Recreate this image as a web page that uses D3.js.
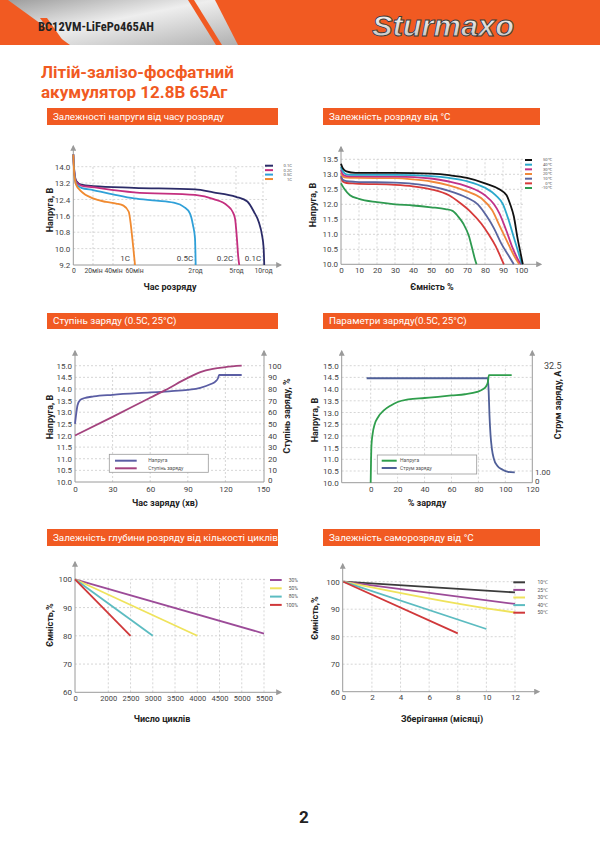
<!DOCTYPE html>
<html><head><meta charset="utf-8">
<script src="https://cdn.jsdelivr.net/npm/d3@7"></script>
<style>
body{margin:0;background:#fff;}
svg{display:block;font-family:Roboto,"Liberation Sans",Arial,sans-serif;}
.grid{stroke:#c4c4c4;stroke-width:0.7;stroke-dasharray:2,2;fill:none;}
.tick text{font-size:8px;fill:#444;font-family:Roboto,"Liberation Sans",Arial,sans-serif;}
.ax{stroke:#9a9a9a;stroke-width:1;}
.atitle{font-size:9px;font-weight:bold;fill:#222;}
.leg{font-size:5px;fill:#555;}
</style></head><body>
<script>
// ---- data ----
// chart 1: discharge voltage vs time (minutes)
const dischargeTimeTicks=[0,20,40,60,120,300,600]
const dischargeTimeLabels=["0","20мін","40мін","60мін","2год","5год","10год"]
const dischargeVoltTicks=[9.2,10.0,10.8,11.6,12.4,13.2,14.0]
const rate01C=[[0,14.6],[1,13.8],[3,13.3],[8,13.12],[20,13.05],[60,12.97],[120,12.89],[200,12.75],[300,12.53],[426,12.3],[499,11.8],[553,11.3],[589,10.66],[607,10.03],[614,9.2]]
const rate02C=[[0,14.6],[1,13.75],[3,13.25],[8,13.08],[20,13.0],[60,12.75],[120,12.62],[202,12.42],[262,12.1],[285,11.8],[296,11.45],[310,10.5],[325,9.6],[336,9.2]]
const rate05C=[[0,14.6],[1,13.7],[3,13.15],[8,12.97],[20,12.86],[40,12.65],[60,12.45],[82,12.34],[99,12.24],[109,12.04],[115,11.72],[118,11.15],[120,10.5],[123,9.2]]
const rate1C=[[0,14.6],[1,13.6],[3,13.1],[8,12.8],[20,12.45],[33,12.28],[43,12.2],[50,12.1],[55,11.8],[57,11.15],[59,10.2],[61,9.2]]
const rateNames=["0.1C","0.2C","0.5C","1C"]
const rateColors=["#2b2b68","#c42f7f","#2fa0d8","#f08a30"]

// chart 2: discharge vs temperature
const capTicks=[0,10,20,30,40,50,60,70,80,90,100]
const tempVoltTicks=[10.0,10.5,11.0,11.5,12.0,12.5,13.0,13.5]
const t50=[[0,13.35],[1,13.2],[3,13.1],[8,13.05],[30,13.05],[50,13.02],[60,12.97],[70,12.88],[80,12.7],[88,12.5],[92,12.3],[94,12.0],[96,11.6],[98,10.9],[100,10.3],[101,10.0]]
const t40=[[0,13.25],[1,13.1],[3,13.0],[8,12.98],[30,12.98],[50,12.94],[60,12.88],[70,12.77],[80,12.55],[86,12.3],[90,12.0],[93,11.5],[96,10.9],[98.5,10.4],[100.5,10.0]]
const t30=[[0,13.15],[1,13.0],[3,12.94],[8,12.93],[30,12.92],[50,12.86],[60,12.76],[70,12.6],[80,12.3],[85,12.0],[88,11.7],[92,11.1],[95,10.6],[98,10.2],[100,10.0]]
const t20=[[0,13.05],[1,12.93],[3,12.89],[8,12.88],[30,12.87],[40,12.83],[50,12.76],[60,12.63],[70,12.43],[78,12.2],[84,11.8],[88,11.3],[92,10.8],[96,10.3],[99,10.0]]
const t10=[[0,12.95],[1,12.82],[3,12.77],[8,12.75],[30,12.72],[40,12.68],[50,12.6],[60,12.45],[70,12.22],[76,12.0],[81,11.6],[85,11.2],[89,10.7],[93,10.3],[96,10.0]]
const t0=[[0,12.9],[1,12.76],[3,12.71],[8,12.69],[30,12.65],[40,12.6],[50,12.5],[60,12.3],[66,12.05],[72,11.75],[78,11.35],[82,11.0],[86,10.6],[89,10.2],[90.5,10.0]]
const tm10=[[0,12.7],[2,12.5],[5,12.3],[10,12.18],[20,12.07],[30,12.0],[40,11.96],[50,11.9],[58,11.84],[62,11.78],[65,11.6],[68,11.35],[71,10.95],[73,10.5],[74.5,10.15],[75.3,10.0]]
const tempNames=["50℃","40℃","30℃","20℃","10℃","0℃","-10℃"]
const tempColors=["#111111","#2aa8cb","#c03288","#f0883a","#5a659f","#d63a3a","#2e9a50"]

// chart 3: state of charge
const chargeTimeTicks=[0,30,60,90,120,150]
const chargeVoltTicks=[10.0,10.5,11.0,11.5,12.0,12.5,13.0,13.5,14.0,14.5,15.0]
const socTicks=[0,10,20,30,40,50,60,70,80,90,100]
const chargeVolt=[[0,12.5],[1,12.95],[2,13.3],[4,13.52],[7,13.6],[15,13.68],[30,13.75],[60,13.85],[75,13.9],[90,13.96],[100,14.05],[108,14.2],[112,14.32],[114,14.45],[115,14.6],[133,14.6]]
const chargeSoc=[[0,40],[30,56],[60,72.5],[72,79],[90,89.5],[100,94.5],[110,97.3],[120,98.8],[133,100]]

// chart 4: charge parameters
const chargePctTicks=[0,20,40,60,80,100,120]
const paramVolt=[[0,10.0],[0.3,11.0],[0.6,11.6],[1.5,12.1],[3,12.5],[5.5,12.8],[10,13.1],[15,13.3],[20,13.45],[28,13.56],[40,13.62],[50,13.67],[60,13.73],[70,13.78],[79,13.88],[83,13.98],[85.5,14.1],[87,14.3],[87.8,14.6],[104.7,14.6]]
const paramCurrent=[[-3,28.8],[87,28.8],[87.6,25],[88.2,18],[89,12],[90,8],[91.5,5],[94,3],[98,1.8],[102,1.2],[107,1.05]]
const currentTicks=[0,1,32.5]
const currentLabels=["0","1.00","32.5"]

// chart 5: cycles
const cycleTicks=[0,2000,2500,3000,3500,4000,4500,5000,5500]
const capPctTicks=[60,70,80,90,100]
const dod30=[[0,100],[5500,80.8]]
const dod50=[[0,100],[4000,80]]
const dod80=[[0,100],[3000,80]]
const dod100=[[0,100],[2500,80]]
const dodNames=["30%","50%","80%","100%"]
const dodColors=["#9c4b98","#efe35c","#5cbcc1","#d0383a"]

// chart 6: self discharge
const monthTicks=[0,2,4,6,8,10,12]
const sd10=[[0,100],[12,96.1]]
const sd25=[[0,100],[12,91.9]]
const sd30=[[0,100],[10,90.3],[12,88.8]]
const sd40=[[0,100],[10,82.8]]
const sd50=[[0,100],[8,81.2]]
const sdNames=["10℃","25℃","30℃","40℃","50℃"]
const sdColors=["#3b3b3b","#9c4b98","#efe35c","#5cbcc1","#d0383a"]

// ---- page ----
const ORANGE="#f15a22"
const svg=d3.select("body").append("svg").attr("width",600).attr("height",848)
const defs=svg.append("defs")
defs.append("marker").attr("id","arr").attr("viewBox","0 0 10 10")
    .attr("refX",8).attr("refY",5).attr("markerWidth",6).attr("markerHeight",6)
    .attr("orient","auto")
    .append("path").attr("d","M0,0L10,5L0,10z").attr("fill","#9a9a9a")
const silver=defs.append("linearGradient").attr("id","silver")
    .attr("x1","0").attr("y1","0").attr("x2","1").attr("y2","1")
silver.append("stop").attr("offset","0").attr("stop-color","#9d9d9d")
silver.append("stop").attr("offset","0.45").attr("stop-color","#eeeeee")
silver.append("stop").attr("offset","1").attr("stop-color","#b0b0b0")
const logoGrad=defs.append("linearGradient").attr("id","logo")
    .attr("x1","0").attr("y1","0").attr("x2","0").attr("y2","1")
logoGrad.append("stop").attr("offset","0").attr("stop-color","#ffffff")
logoGrad.append("stop").attr("offset","1").attr("stop-color","#bdbdbd")

// header
svg.append("rect").attr("x",0).attr("y",0).attr("width",600).attr("height",45).attr("fill",ORANGE)
svg.append("path").attr("d","M8,0L215,0L238,45L70,45Z").attr("fill","url(#silver)")
svg.append("path").attr("d","M188,0L194,0L222,45L216,45Z").attr("fill",ORANGE)
svg.append("path").attr("d","M40,18L47,18L66,45L59,45Z").attr("fill",ORANGE)
svg.append("text").attr("x",38).attr("y",31).text("BC12VM-LiFePo465AH")
    .attr("font-family","'Liberation Sans Narrow','Roboto Condensed',Roboto,sans-serif")
    .attr("font-weight","bold").attr("font-size",12.5).attr("fill","#222")
    .attr("textLength",116).attr("lengthAdjust","spacingAndGlyphs")
svg.append("text").attr("x",372).attr("y",36).text("Sturmaxo")
    .attr("font-family","'Liberation Sans',Arial,sans-serif").attr("font-style","italic")
    .attr("font-weight","bold").attr("font-size",30).attr("fill","url(#logo)")
    .attr("stroke","#3a3a3a").attr("stroke-width",0.9)
    .attr("textLength",142).attr("lengthAdjust","spacingAndGlyphs")

// title
const title=svg.append("text").attr("font-weight","bold").attr("font-size",17).attr("fill",ORANGE)
title.append("tspan").attr("x",41).attr("y",78).text("Літій-залізо-фосфатний")
title.append("tspan").attr("x",41).attr("y",98).text("акумулятор 12.8В 65Аг")

// section bars
function bar(x,y,w,h,txt){
    svg.append("rect").attr("x",x).attr("y",y).attr("width",w).attr("height",h).attr("fill",ORANGE)
    svg.append("text").attr("x",x+6).attr("y",y+h/2).attr("dy","0.35em")
        .attr("font-size",9.8).attr("fill","#fff").text(txt)
}
bar(47,108,231,17,"Залежності напруги від часу розряду")
bar(323,108,217,17,"Залежність розряду від °С")
bar(47,313,231,16,"Ступінь заряду (0.5С, 25°C)")
bar(323,313,217,16,"Параметри заряду(0.5С, 25°C)")
bar(47,529,231,17,"Залежність глубини розряду від кількості циклів")
bar(323,529,217,17,"Залежність саморозряду від °С")

svg.append("text").attr("x",304).attr("y",823).attr("text-anchor","middle")
    .attr("font-size",17).attr("font-weight","bold").attr("fill","#222").text("2")

// ---- helpers ----
function frame(o){
    const g=svg.append("g")
    const yb=o.y.range()[0]
    g.selectAll(null).data(o.yGrid).join("line").attr("class","grid")
        .attr("x1",o.x0).attr("x2",o.gridRight).attr("y1",d=>o.y(d)).attr("y2",d=>o.y(d))
    g.selectAll(null).data(o.xGrid).join("line").attr("class","grid")
        .attr("x1",d=>o.x(d)).attr("x2",d=>o.x(d)).attr("y1",yb).attr("y2",o.gridTop)
    g.append("line").attr("class","ax").attr("x1",o.x0).attr("x2",o.xEnd).attr("y1",yb).attr("y2",yb)
        .attr("marker-end",o.xArrow?"url(#arr)":null)
    g.append("line").attr("class","ax").attr("x1",o.x0).attr("x2",o.x0).attr("y1",yb).attr("y2",o.yEnd)
        .attr("marker-end","url(#arr)")
    g.append("g").attr("transform",`translate(0,${yb})`)
        .call(d3.axisBottom(o.x).tickValues(o.xTicks).tickFormat(o.xFmt||d3.format("d")).tickSize(0).tickPadding(o.xPad||3))
        .call(a=>a.select(".domain").remove())
        .selectAll("text").style("font-size",(o.xFont||8)+"px")
    g.append("g").attr("transform",`translate(${o.x0},0)`)
        .call(d3.axisLeft(o.y).tickValues(o.yTicks).tickFormat(o.yFmt||d3.format("d")).tickSize(0).tickPadding(3))
        .call(a=>a.select(".domain").remove())
        .selectAll("text").style("font-size",(o.yFont||8)+"px")
    return g
}

function curve(x,y,data,color,w){
    svg.append("path").datum(data)
        .attr("d",d3.line().x(d=>x(d[0])).y(d=>y(d[1])).curve(d3.curveMonotoneX))
        .attr("fill","none").attr("stroke",color).attr("stroke-width",w||1.8)
        .attr("stroke-linejoin","round")
}

function legend(names,colors,sx0,sx1,lx,y0,dy,fs){
    names.forEach((n,i)=>{
        svg.append("line").attr("x1",sx0).attr("x2",sx1).attr("y1",y0+i*dy).attr("y2",y0+i*dy)
            .attr("stroke",colors[i]).attr("stroke-width",2)
        svg.append("text").attr("class","leg").attr("x",lx).attr("y",y0+i*dy).attr("dy","0.35em")
            .attr("text-anchor","end").style("font-size",fs+"px").text(n)
    })
}

function atitle(x,y,txt,rot){
    svg.append("text").attr("class","atitle").attr("text-anchor","middle").attr("dy","0.35em")
        .attr("transform",`translate(${x},${y})`+(rot?" rotate(-90)":"")).text(txt)
}

function boxLegend(x,y,w,h,rows,sx0,sx1,tx){
    svg.append("rect").attr("x",x).attr("y",y).attr("width",w).attr("height",h)
        .attr("fill","#fff").attr("stroke","#9a9a9a").attr("stroke-width",0.8)
    rows.forEach(r=>{
        svg.append("line").attr("x1",sx0).attr("x2",sx1).attr("y1",r.y).attr("y2",r.y)
            .attr("stroke",r.color).attr("stroke-width",2)
        svg.append("text").attr("class","leg").attr("x",tx).attr("y",r.y).attr("dy","0.35em").text(r.name)
    })
}

// ---- chart 1 ----
{
    const x=d3.scaleLinear().domain(dischargeTimeTicks).range([73.3,93,113,134,195,236,263])
    const y=d3.scaleLinear().domain([9.2,14.0]).range([265,166.7])
    frame({x,y,x0:73.3,xEnd:281,xArrow:true,yEnd:146,gridRight:267,gridTop:166.7,
        yGrid:dischargeVoltTicks.slice(1),xGrid:dischargeTimeTicks.slice(1),
        xTicks:dischargeTimeTicks,xFmt:(d,i)=>dischargeTimeLabels[i],xFont:6.8,
        yTicks:dischargeVoltTicks,yFmt:d3.format(".1f")})
    ;[rate01C,rate02C,rate05C,rate1C].forEach((s,i)=>curve(x,y,s,rateColors[i]))
    const lab=[[125,"1C"],[185,"0.5C"],[225,"0.2C"],[253,"0.1C"]]
    lab.forEach(l=>svg.append("text").attr("x",l[0]).attr("y",261).attr("text-anchor","middle")
        .attr("font-size",8).attr("fill","#444").text(l[1]))
    legend(rateNames,rateColors,265,273,292,165.7,4.45,4.2)
    atitle(50,210,"Напруга, В",true)
    atitle(170,287,"Час розряду")
}

// ---- chart 2 ----
{
    const x=d3.scaleLinear().domain([0,100]).range([341,521])
    const y=d3.scaleLinear().domain([10,13.5]).range([264.3,159.3])
    frame({x,y,x0:341,xEnd:541,xArrow:true,yEnd:147,gridRight:524,gridTop:159.3,
        yGrid:tempVoltTicks.slice(1),xGrid:capTicks.slice(1),
        xTicks:capTicks,yTicks:tempVoltTicks,yFmt:d3.format(".1f")})
    ;[tm10,t0,t10,t20,t30,t40,t50].forEach((s,i)=>curve(x,y,s,tempColors[6-i]))
    legend(tempNames,tempColors,525,532,551.7,160,4.67,4.2)
    atitle(313,205,"Напруга, В",true)
    atitle(432,287,"Ємність %")
}

// ---- chart 3 ----
{
    const x=d3.scaleLinear().domain([0,150]).range([75,263])
    const y=d3.scaleLinear().domain([10,15]).range([482,365.7])
    const y2=d3.scaleLinear().domain([0,100]).range([482,365.7])
    frame({x,y,x0:75,xEnd:264,xArrow:false,yEnd:351,gridRight:264,gridTop:365.7,
        yGrid:chargeVoltTicks.slice(1),xGrid:chargeTimeTicks.slice(1,-1),xPad:4,
        xTicks:chargeTimeTicks,yTicks:chargeVoltTicks,yFmt:d3.format(".1f")})
    svg.append("line").attr("class","ax").attr("x1",264).attr("x2",264).attr("y1",482).attr("y2",351)
        .attr("marker-end","url(#arr)")
    svg.append("g").attr("transform","translate(264,0)")
        .call(d3.axisRight(y2).tickValues(socTicks).tickSize(0).tickPadding(4))
        .call(a=>a.select(".domain").remove())
        .selectAll("text").attr("dy",(d)=>d==0?"0.1em":"0.32em")
    curve(x,y,chargeVolt,"#5b5ea4")
    curve(x,y2,chargeSoc,"#a4437e")
    boxLegend(109.3,454.3,99,18,[{y:460.7,color:"#5b5ea4",name:"Напруга"},{y:468.3,color:"#a4437e",name:"Ступінь заряду"}],115,136.7,148.3)
    atitle(50,417,"Напруга, В",true)
    atitle(287,416,"Ступінь заряду, %",true)
    atitle(165,503,"Час заряду (хв)")
}

// ---- chart 4 ----
{
    const x=d3.scaleLinear().domain([-21.5,120]).range([341.7,532.3])
    const y=d3.scaleLinear().domain([10,15]).range([482.7,365.7])
    const y2=d3.scaleLinear().domain(currentTicks).range([482.7,472.5,365.7])
    frame({x,y,x0:341.7,xEnd:532.3,xArrow:false,yEnd:351,gridRight:532.3,gridTop:365.7,
        yGrid:chargeVoltTicks.slice(1),xGrid:chargePctTicks.slice(0,-1),xPad:4,
        xTicks:chargePctTicks,yTicks:chargeVoltTicks,yFmt:d3.format(".1f")})
    svg.append("line").attr("class","ax").attr("x1",532.3).attr("x2",532.3).attr("y1",482.7).attr("y2",351)
        .attr("marker-end","url(#arr)")
    currentTicks.forEach((t,i)=>svg.append("text").attr("x",i==2?544:535).attr("y",y2(t)+(i==0?-1.5:0)).attr("dy","0.35em")
        .attr("font-size",i==2?9:8).attr("fill","#444").text(currentLabels[i]))
    curve(x,y2,paramCurrent,"#4f5f98")
    curve(x,y,paramVolt,"#2f9e4c")
    boxLegend(377.3,455,99.4,19,[{y:460.7,color:"#2f9e4c",name:"Напруга"},{y:468,color:"#4f5f98",name:"Струм заряду"}],381.7,396.7,400)
    atitle(315,420,"Напруга, В",true)
    atitle(558,405,"Струм заряду, А",true)
    atitle(427,503,"% заряду")
}

// ---- chart 5 ----
{
    const x=d3.scaleLinear().domain([0,2000,5500]).range([75,108.3,264])
    const y=d3.scaleLinear().domain([60,100]).range([692.3,579.3])
    frame({x,y,x0:75,xEnd:281,xArrow:true,yEnd:562,gridRight:266,gridTop:579.3,
        yGrid:capPctTicks.slice(1),xGrid:cycleTicks.slice(1),
        xTicks:cycleTicks,xFont:7.5,yTicks:capPctTicks})
    ;[dod30,dod50,dod80,dod100].forEach((s,i)=>curve(x,y,s,dodColors[i]))
    legend(dodNames,dodColors,270,281.7,298,580,8.3,5)
    atitle(50,625,"Ємність,%",true)
    atitle(162,719,"Число циклів")
}

// ---- chart 6 ----
{
    const x=d3.scaleLinear().domain([0,12]).range([343.3,515])
    const y=d3.scaleLinear().domain([60,100]).range([691.7,581.7])
    frame({x,y,x0:342.7,xEnd:539,xArrow:true,yEnd:564,gridRight:515,gridTop:581.7,
        yGrid:capPctTicks.slice(1),xGrid:monthTicks.slice(1),
        xTicks:monthTicks,yTicks:capPctTicks})
    ;[sd10,sd25,sd30,sd40,sd50].forEach((s,i)=>curve(x,y,s,sdColors[i]))
    legend(sdNames,sdColors,513.3,525,548,582.3,7.6,5)
    atitle(315,618,"Ємність,%",true)
    atitle(442,719,"Зберігання (місяці)")
}
</script></body></html>
